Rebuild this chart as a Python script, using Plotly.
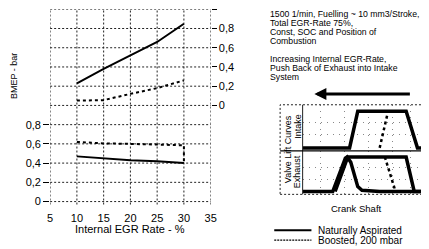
import plotly.graph_objects as go

# ---------------- data ----------------
egr = [10, 15, 20, 25, 30]
na_upper = [0.23, 0.38, 0.52, 0.66, 0.85]          # right axis
boost_upper = [0.05, 0.055, 0.12, 0.18, 0.26]      # right axis
na_bmep = [0.47, 0.45, 0.43, 0.42, 0.40]           # left axis (BMEP)
boost_egr = [10, 15, 20, 25, 30, 30]
boost_bmep = [0.62, 0.605, 0.60, 0.595, 0.585, 0.41]

x_ticks = [5, 10, 15, 20, 25, 30, 35]
left_ticks = [0, 0.2, 0.4, 0.6, 0.8]
left_text = ["0", "0,2", "0,4", "0,6", "0,8"]
right_ticks = [0, 0.2, 0.4, 0.6, 0.8, 1.0]
right_text = ["0", "0,2", "0,4", "0,6", "0,8", "1"]
grid_ticks = [round(0.2 * i, 1) for i in range(11)]

# valve lift sketch (crank position 0..1, lift 0..1)
intake_na_x = [0, 0.39, 0.458, 0.86, 0.954, 1.0]
intake_na_y = [0, 0, 0.85, 0.85, 0, 0]
intake_bo_x = [0.64, 0.71]
intake_bo_y = [0, 0.85]
exh_main_x = [0, 0.25, 0.355, 0.37, 0.40, 0.458, 0.493, 0.64, 1.0]
exh_main_y = [0, 0, 0.82, 0.85, 0.72, 0.12, 0.03, 0, 0]
exh_long_x = [0.27, 0.375, 0.86, 0.927, 1.0]
exh_long_y = [0, 0.85, 0.85, 0, 0]
exh_bo_x = [0.683, 0.772]
exh_bo_y = [0.85, 0]

notes = ["1500 1/min, Fuelling ~ 10 mm3/Stroke,", "Total EGR-Rate 75%,",
         "Const, SOC and Position of", "Combustion",
         "Increasing Internal EGR-Rate,", "Push Back of Exhaust into Intake", "System"]
notes_y = [14, 23, 32, 41, 60, 69, 78]

# page has an 8px body margin -> figure is 421x241, placed at (8, 8)
OFF = 8
W, H = 429 - OFF, 249 - OFF
def px(x): return (x - OFF) / W
def py(y): return 1 - (y - OFF) / H

FONT = "Liberation Sans, Arial, sans-serif"
fig = go.Figure()

fig.add_trace(go.Scatter(x=egr, y=na_upper, mode="lines", yaxis="y4", xaxis="x",
                         line=dict(color="black", width=2), showlegend=False, hoverinfo="skip"))
fig.add_trace(go.Scatter(x=egr, y=boost_upper, mode="lines", yaxis="y4", xaxis="x",
                         line=dict(color="black", width=2, dash="dot"), showlegend=False, hoverinfo="skip"))
fig.add_trace(go.Scatter(x=egr, y=na_bmep, mode="lines", yaxis="y", xaxis="x",
                         line=dict(color="black", width=2), showlegend=False, hoverinfo="skip"))
fig.add_trace(go.Scatter(x=boost_egr, y=boost_bmep, mode="lines", yaxis="y", xaxis="x",
                         line=dict(color="black", width=2, dash="dot"), showlegend=False, hoverinfo="skip"))
# anchor trace so the left label axis is drawn
fig.add_trace(go.Scatter(x=[egr[0]], y=[left_ticks[0]], mode="lines", yaxis="y5", xaxis="x",
                         showlegend=False, hoverinfo="skip"))

# inset traces
fig.add_trace(go.Scatter(x=intake_na_x, y=intake_na_y, mode="lines", xaxis="x2", yaxis="y2",
                         line=dict(color="black", width=3.5), showlegend=False, hoverinfo="skip"))
fig.add_trace(go.Scatter(x=intake_bo_x, y=intake_bo_y, mode="lines", xaxis="x2", yaxis="y2",
                         line=dict(color="black", width=2.5, dash="dot"), showlegend=False, hoverinfo="skip"))
fig.add_trace(go.Scatter(x=exh_main_x, y=exh_main_y, mode="lines", xaxis="x3", yaxis="y3",
                         line=dict(color="black", width=3.5), showlegend=False, hoverinfo="skip"))
fig.add_trace(go.Scatter(x=exh_long_x, y=exh_long_y, mode="lines", xaxis="x3", yaxis="y3",
                         line=dict(color="black", width=3.5), showlegend=False, hoverinfo="skip"))
fig.add_trace(go.Scatter(x=exh_bo_x, y=exh_bo_y, mode="lines", xaxis="x3", yaxis="y3",
                         line=dict(color="black", width=2.5, dash="dot"), showlegend=False, hoverinfo="skip"))

# main plot geometry (reference pixels)
top_px, zero_px, bot_px = 9.3, 204.0, 207.0
step = (zero_px - top_px) / 2.0          # px per unit on left axis
ybot = -(bot_px - zero_px) / step
ytop = 2.0
xdom = [px(48), px(212)]
ydom = [py(bot_px), py(top_px)]

inset_grid = dict(showgrid=True, gridcolor="#888", griddash="1px,5px", zeroline=False,
                  ticks="", showticklabels=False)

fig.update_layout(
    width=W, height=H, margin=dict(l=0, r=0, t=0, b=0),
    paper_bgcolor="white", plot_bgcolor="rgba(0,0,0,0)",
    font=dict(family=FONT, color="black", size=10),
    xaxis=dict(domain=xdom, range=[5, 35], tickvals=x_ticks, ticks="", showgrid=False,
               zeroline=False, showline=False, tickfont=dict(size=11), ticklabelstandoff=5),
    yaxis=dict(domain=ydom, range=[ybot, ytop], showticklabels=False, showgrid=False,
               ticks="", zeroline=False, showline=False),
    yaxis5=dict(overlaying="y", side="left", range=[ybot, ytop], tickvals=left_ticks,
                ticktext=left_text, ticks="outside", ticklen=6, tickcolor="black",
                showgrid=False, zeroline=False, showline=False, tickfont=dict(size=11)),
    yaxis4=dict(overlaying="y", side="right", range=[ybot - 1.0, ytop - 1.0], tickvals=right_ticks,
                ticktext=right_text, ticks="outside", ticklen=5, tickcolor="black",
                showgrid=False, zeroline=False, showline=False, tickfont=dict(size=11)),
    xaxis2=dict(domain=[px(306), 1.0], anchor="y2", range=[0, 1.0],
                tickvals=[0.15, 0.35, 0.55, 0.75, 0.9], **inset_grid),
    yaxis2=dict(domain=[py(152.7), py(106)], anchor="x2", range=[-0.07, 1.0],
                tickvals=[0.3, 0.6], **inset_grid),
    xaxis3=dict(domain=[px(306), 1.0], anchor="y3", range=[0, 1.0],
                tickvals=[0.15, 0.35, 0.55, 0.75, 0.9], **inset_grid),
    yaxis3=dict(domain=[py(196.7), py(152.7)], anchor="x3", range=[-0.07, 1.0],
                tickvals=[0.3, 0.6], **inset_grid),
)

shapes = []
gdash = dict(color="#222", width=1, dash="2px,2px")
for xv in x_ticks:
    shapes.append(dict(type="line", xref="x", yref="y domain", x0=xv, x1=xv, y0=0, y1=1,
                       line=gdash, layer="below"))
for yv in grid_ticks:
    shapes.append(dict(type="line", xref="x domain", yref="y", x0=0, x1=1, y0=yv, y1=yv,
                       line=gdash, layer="below"))
# inset frame
shapes.append(dict(type="rect", xref="paper", yref="paper", x0=px(283), x1=px(440), y0=py(196.7), y1=py(106),
                   line=dict(color="#222", width=1, dash="2px,2px")))
shapes.append(dict(type="line", xref="paper", yref="paper", x0=px(306), x1=px(306), y0=py(196.7), y1=py(106),
                   line=dict(color="#222", width=1)))
shapes.append(dict(type="line", xref="paper", yref="paper", x0=px(283), x1=1, y0=py(152.7), y1=py(152.7),
                   line=dict(color="black", width=1.2)))
# legend samples
shapes.append(dict(type="line", xref="paper", yref="paper", x0=px(277), x1=px(315), y0=py(233), y1=py(233),
                   line=dict(color="black", width=2)))
shapes.append(dict(type="line", xref="paper", yref="paper", x0=px(277), x1=px(315), y0=py(243), y1=py(243),
                   line=dict(color="black", width=1.2, dash="2px,1px")))
fig.update_layout(shapes=shapes)

def txt(t, x, y, size, xanchor="left", angle=0):
    return dict(text=t, x=px(x), y=py(y), xref="paper", yref="paper", xanchor=xanchor,
                yanchor="middle", textangle=angle, showarrow=False, font=dict(size=size))

ann = []
ann.append(txt("BMEP - bar", 11, 77, 9, "center", -90))
ann.append(txt("Internal EGR Rate - %", 130, 232, 11, "center"))
for t, yy in zip(notes, notes_y):
    ann.append(txt(t, 271, yy, 8.7))
# arrow
ann.append(dict(x=px(318), y=py(95), ax=97, ay=0, xref="paper", yref="paper",
                axref="pixel", ayref="pixel", text="", showarrow=True, arrowhead=2,
                arrowsize=0.8, arrowwidth=3, arrowcolor="black"))
ann.append(txt("Valve Lift Curves", 291, 151, 9, "center", -90))
ann.append(txt("Intake", 300.5, 128, 9, "center", -90))
ann.append(txt("Exhaust", 300.5, 174, 9, "center", -90))
ann.append(txt("Crank Shaft", 361, 211, 9.5, "center"))
ann.append(txt("Naturally Aspirated", 320, 233, 10))
ann.append(txt("Boosted, 200 mbar", 320, 243, 10))
fig.update_layout(annotations=ann)

fig.write_html("out.html")
